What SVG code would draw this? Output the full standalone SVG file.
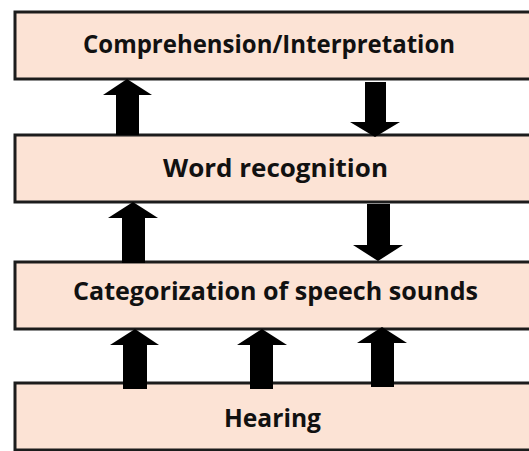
<svg xmlns="http://www.w3.org/2000/svg" width="529" height="451" viewBox="0 0 529 451">
<style>
.box{fill:#FCE3D5;stroke:#1c1c1c;stroke-width:3}
.lbl{font-family:"Open Sans","Liberation Sans",sans-serif;font-weight:bold;font-size:25px;fill:#111;text-anchor:middle}
.arr{fill:#000}
</style>
<rect x="0" y="0" width="529" height="451" fill="#fff"/>
<g id="comprehension">
<rect class="box" x="15" y="12" width="530" height="67"/>
<text class="lbl" x="269" y="53" textLength="372" lengthAdjust="spacingAndGlyphs">Comprehension/Interpretation</text>
</g>
<g id="word-recognition">
<rect class="box" x="15" y="135" width="530" height="67"/>
<text class="lbl" x="275.5" y="177" textLength="225" lengthAdjust="spacingAndGlyphs">Word recognition</text>
</g>
<g id="categorization">
<rect class="box" x="15" y="262" width="530" height="67"/>
<text class="lbl" x="275.5" y="300" textLength="405" lengthAdjust="spacingAndGlyphs">Categorization of speech sounds</text>
</g>
<g id="hearing">
<rect class="box" x="15" y="383" width="530" height="67"/>
<text class="lbl" x="272.5" y="427" textLength="97" lengthAdjust="spacingAndGlyphs">Hearing</text>
</g>
<g id="connectors">
<polygon class="arr" points="127,79 152,95 139,95 139,135 116,135 116,95 103,95"/>
<polygon class="arr" points="365,82 386,82 386,122 400,122 375,137 350,122 365,122"/>
<polygon class="arr" points="133,202 158,218 145,218 145,263 122,263 122,218 108,218"/>
<polygon class="arr" points="367,204 390,204 390,245 403,245 378,261 353,245 367,245"/>
<polygon class="arr" points="135,329 159,345 147,345 147,389 123,389 123,345 110,345"/>
<polygon class="arr" points="262,329 287,345 273,345 273,389 250,389 250,345 237,345"/>
<polygon class="arr" points="382,327 407,343 394,343 394,387 371,387 371,343 357,343"/>
</g>
</svg>
